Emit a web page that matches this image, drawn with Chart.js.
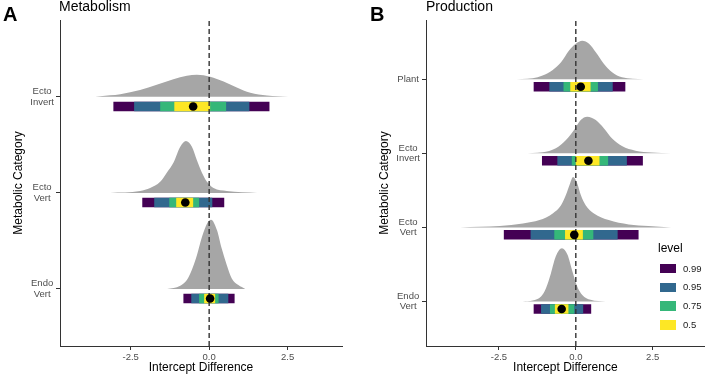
<!DOCTYPE html>
<html><head><meta charset="utf-8">
<script src="https://cdn.jsdelivr.net/npm/chart.js@4.4.1/dist/chart.umd.min.js"></script>
<style>
html,body{margin:0;padding:0;background:#fff;}
body{width:709px;height:376px;position:relative;overflow:hidden;font-family:"Liberation Sans",Arial,Helvetica,sans-serif;}
canvas{position:absolute;top:0;}
.lbl{position:absolute;white-space:nowrap;color:#000;}
</style></head><body>
<canvas id="cA" width="360" height="376" style="left:0px"></canvas>
<canvas id="cB" width="349" height="376" style="left:360px"></canvas>
<div class="lbl" style="left:3px;top:4px;font-size:20px;line-height:20px;font-weight:bold">A</div>
<div class="lbl" style="left:59px;top:-1px;font-size:14px;line-height:14px">Metabolism</div>
<div class="lbl" style="left:370px;top:4px;font-size:20px;line-height:20px;font-weight:bold">B</div>
<div class="lbl" style="left:426px;top:-1px;font-size:14px;line-height:14px">Production</div>
<div id="legend"></div>
<script>
// ---------- data ----------
const xTickValues = [-2.5, 0, 2.5];
const xTickLabels = ['-2.5', '0.0', '2.5'];
const levels = ['0.99', '0.95', '0.75', '0.5'];
const levelColors = ['#440154', '#31688E', '#35B779', '#FDE725'];

// Panel A: Metabolism (bottom to top)
const metabCategories = ['Endo Vert', 'Ecto Vert', 'Ecto Invert'];
const metabPoint = [0.03, -0.76, -0.51];
const metabInt99 = [[-0.82, 0.81], [-2.13, 0.48], [-3.05, 1.92]];
const metabInt95 = [[-0.57, 0.61], [-1.75, 0.10], [-2.39, 1.28]];
const metabInt75 = [[-0.32, 0.30], [-1.27, -0.32], [-1.56, 0.54]];
const metabInt50 = [[-0.16, 0.19], [-1.05, -0.51], [-1.11, 0.03]];
const metabDensX = [
  [-1.34, -0.92, -0.71, -0.55, -0.39, -0.23, -0.07, 0.06, 0.25, 0.40, 0.56, 0.72, 0.93, 1.15],
  [-3.15, -2.20, -1.88, -1.56, -1.35, -1.13, -0.92, -0.74, -0.55, -0.39, -0.23, -0.07, 0.14, 0.56, 1.53],
  [-3.63, -3.47, -2.83, -2.20, -1.67, -1.14, -0.71, -0.39, 0.03, 0.46, 0.88, 1.31, 1.84, 2.52]
];
const metabDensH = [
  [0, 0.034, 0.094, 0.20, 0.35, 0.54, 0.68, 0.72, 0.61, 0.42, 0.25, 0.11, 0.04, 0],
  [0, 0.02, 0.05, 0.115, 0.21, 0.32, 0.48, 0.54, 0.48, 0.34, 0.21, 0.115, 0.05, 0.02, 0],
  [0, 0.007, 0.028, 0.07, 0.125, 0.184, 0.22, 0.23, 0.21, 0.16, 0.097, 0.042, 0.014, 0]
];

// Panel B: Production (bottom to top)
const prodCategories = ['Endo Vert', 'Ecto Vert', 'Ecto Invert', 'Plant'];
const prodPoint = [-0.46, -0.05, 0.41, 0.16];
const prodInt99 = [[-1.37, 0.50], [-2.34, 2.04], [-1.10, 2.18], [-1.37, 1.61]];
const prodInt95 = [[-1.13, 0.24], [-1.47, 1.36], [-0.60, 1.66], [-0.86, 1.20]];
const prodInt75 = [[-0.84, -0.05], [-0.70, 0.57], [-0.13, 1.05], [-0.40, 0.72]];
const prodInt50 = [[-0.68, -0.24], [-0.35, 0.23], [0.00, 0.77], [-0.18, 0.48]];
const prodDensX = [
  [-1.73, -1.40, -1.13, -0.97, -0.81, -0.65, -0.45, -0.27, -0.11, 0.05, 0.21, 0.48, 0.97],
  [-3.76, -2.47, -1.72, -1.18, -0.75, -0.48, -0.32, -0.19, -0.09, 0.05, 0.16, 0.32, 0.59, 1.07, 1.72, 2.36, 3.10],
  [-1.73, -1.08, -0.65, -0.32, -0.05, 0.16, 0.37, 0.65, 0.91, 1.18, 1.50, 1.94, 2.47, 3.10],
  [-2.10, -1.40, -1.08, -0.75, -0.48, -0.22, 0.00, 0.21, 0.43, 0.65, 0.91, 1.18, 1.50, 2.20]
];
const prodDensH = [
  [0, 0.014, 0.068, 0.18, 0.38, 0.61, 0.72, 0.63, 0.405, 0.20, 0.09, 0.023, 0],
  [0, 0.018, 0.054, 0.099, 0.19, 0.30, 0.44, 0.59, 0.68, 0.59, 0.44, 0.30, 0.19, 0.099, 0.04, 0.018, 0],
  [0, 0.014, 0.068, 0.18, 0.32, 0.45, 0.495, 0.45, 0.34, 0.20, 0.099, 0.036, 0.01, 0],
  [0, 0.014, 0.05, 0.126, 0.23, 0.39, 0.48, 0.52, 0.48, 0.365, 0.21, 0.095, 0.027, 0]
];

// ---------- styles / layout ----------
const FONT = '"Liberation Sans", Arial, Helvetica, sans-serif';
const INT_OFFSET = 0.1;
const SLAB = '#A6A6A6';
const AXIS = '#333333';

function panel(id, cats, densX, densH, ints, pts, lim, geo) {
  const datasets = [];
  cats.forEach((c, i) => {
    const base = i + 1;
    datasets.push({
      type: 'line',
      data: densX[i].map((x, j) => ({x: x, y: base + densH[i][j]})),
      fill: {value: base}, backgroundColor: SLAB, borderColor: 'rgba(0,0,0,0)', borderWidth: 0.5,
      pointRadius: 0, cubicInterpolationMode: 'monotone', order: 10
    });
  });
  levels.forEach((lv, k) => {
    cats.forEach((c, i) => {
      const yy = i + 1 - INT_OFFSET;
      datasets.push({
        type: 'line',
        data: [{x: ints[k][i][0], y: yy}, {x: ints[k][i][1], y: yy}],
        borderColor: levelColors[k], borderWidth: 9.5, borderCapStyle: 'butt',
        pointRadius: 0, fill: false, order: 5 - k
      });
    });
  });
  datasets.push({
    type: 'line', data: [{x: 0, y: lim.yMin}, {x: 0, y: lim.yMax}],
    borderColor: AXIS, borderWidth: 1.4, borderDash: [5, 3], pointRadius: 0, fill: false, order: 1
  });
  datasets.push({
    type: 'scatter', data: pts.map((p, i) => ({x: p, y: i + 1 - INT_OFFSET})),
    pointRadius: 4.3, backgroundColor: '#000', borderWidth: 0, order: 0
  });

  const tickFont = {family: FONT, size: 9.5, lineHeight: 1.1};
  new Chart(document.getElementById(id), {
    type: 'line',
    data: {datasets: datasets},
    options: {
      responsive: false, animation: false, devicePixelRatio: 1,
      layout: {padding: {top: 20, right: geo.rightPad, left: 0, bottom: 0}},
      plugins: {legend: {display: false}, tooltip: {enabled: false}},
      scales: {
        x: {
          type: 'linear', min: lim.xMin, max: lim.xMax,
          afterBuildTicks: s => { s.ticks = xTickValues.map(v => ({value: v})); },
          ticks: {callback: v => xTickLabels[xTickValues.indexOf(v)], font: tickFont, color: '#4D4D4D', padding: 2, maxRotation: 0, autoSkip: false},
          grid: {display: true, drawOnChartArea: false, drawTicks: true, tickLength: 4, color: AXIS, lineWidth: 1},
          border: {display: true, color: AXIS, width: 1},
          title: {display: true, text: 'Intercept Difference', font: {family: FONT, size: 12}, color: '#000', padding: {top: 0, bottom: 1}},
          afterFit: s => { s.height = 30; }
        },
        y: {
          type: 'linear', min: lim.yMin, max: lim.yMax,
          afterBuildTicks: s => { s.ticks = cats.map((c, i) => ({value: i + 1})); },
          ticks: {callback: v => cats[Math.round(v) - 1].split(' '), font: tickFont, color: '#4D4D4D', padding: 2, crossAlign: 'center', autoSkip: false},
          grid: {display: true, drawOnChartArea: false, drawTicks: true, tickLength: 4, color: AXIS, lineWidth: 1},
          border: {display: true, color: AXIS, width: 1},
          title: {display: true, text: 'Metabolic Category', font: {family: FONT, size: 12}, color: '#000', padding: {top: geo.titlePad, bottom: 0}},
          afterFit: s => { s.width = geo.yAxisW; }
        }
      }
    }
  });
}

panel('cA', metabCategories, metabDensX, metabDensH,
  [metabInt99, metabInt95, metabInt75, metabInt50], metabPoint,
  {xMin: -4.75, xMax: 4.23, yMin: 0.406, yMax: 3.80},
  {yAxisW: 60, rightPad: 18, titlePad: 11});
panel('cB', prodCategories, prodDensX, prodDensH,
  [prodInt99, prodInt95, prodInt75, prodInt50], prodPoint,
  {xMin: -4.87, xMax: 4.19, yMin: 0.40, yMax: 4.80},
  {yAxisW: 66, rightPad: 2.3, titlePad: 17});

// legend
const lg = document.getElementById('legend');
const t = document.createElement('div');
t.className = 'lbl'; t.textContent = 'level';
t.style.cssText = 'left:658px;top:241px;font-size:12px;line-height:14px;';
lg.appendChild(t);
const keyCenters = [268.7, 287.3, 306, 325];
levels.forEach((lv, k) => {
  const sw = document.createElement('div');
  sw.style.cssText = 'position:absolute;left:660px;width:16px;height:9.5px;top:' + (keyCenters[k] - 4.75) + 'px;background:' + levelColors[k];
  lg.appendChild(sw);
  const tx = document.createElement('div');
  tx.className = 'lbl'; tx.textContent = lv;
  tx.style.cssText = 'left:683px;font-size:9.5px;line-height:10px;color:#1a1a1a;top:' + (keyCenters[k] - 5) + 'px';
  lg.appendChild(tx);
});
</script>
</body></html>
